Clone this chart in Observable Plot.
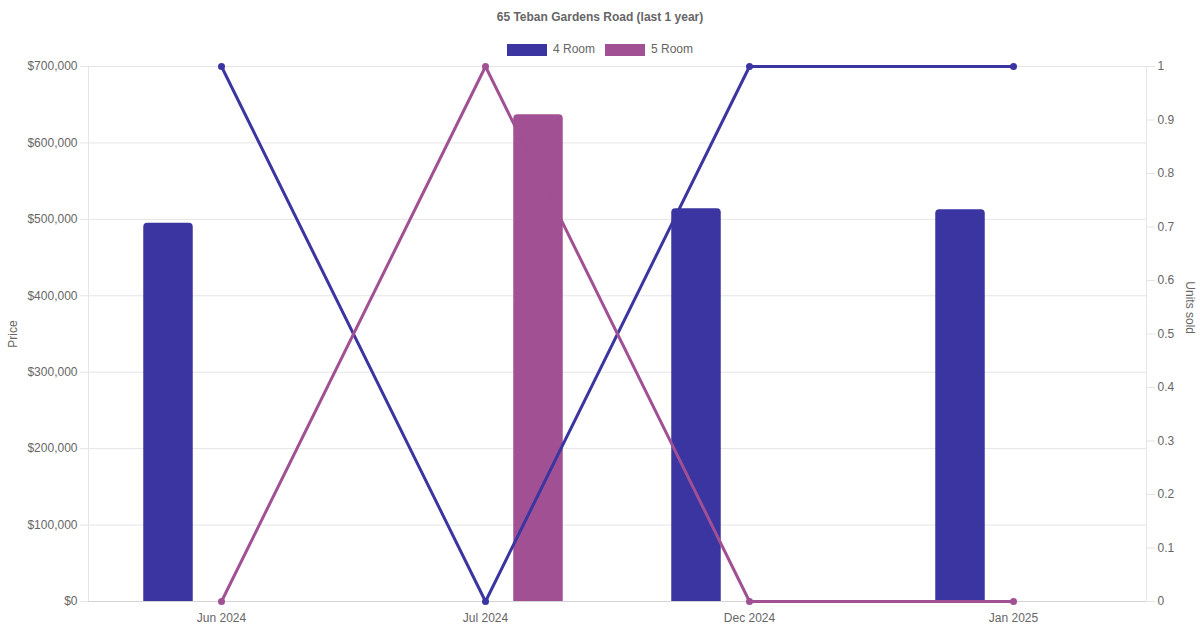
<!DOCTYPE html>
<html>
<head>
<meta charset="utf-8">
<script src="https://cdn.jsdelivr.net/npm/d3@7"></script>
<script src="https://cdn.jsdelivr.net/npm/@observablehq/plot@0.6"></script>
<style>
body{margin:0;background:#fff;font-family:"Liberation Sans",Arial,sans-serif;}
#wrap{position:relative;width:1200px;height:630px;overflow:hidden;}
#title{position:absolute;top:10px;left:0;width:1200px;text-align:center;font-weight:bold;font-size:12px;color:#666;}
#legend{position:absolute;top:43px;left:0;width:1200px;display:flex;justify-content:center;font-size:12px;color:#666;line-height:13px;}
.item{display:flex;align-items:center;margin:0 5px;}
.sw{width:40px;height:12px;margin-right:6px;box-sizing:border-box;}
#chart{position:absolute;top:60px;left:0;}
</style>
</head>
<body>
<div id="wrap">
  <div id="title">65 Teban Gardens Road (last 1 year)</div>
  <div id="legend"></div>
  <div id="chart"></div>
</div>
<script>
// categories + series
const months = ["Jun 2024", "Jul 2024", "Dec 2024", "Jan 2025"];
const seriesNames = ["4 Room", "5 Room"];
const colors = ["#3a35a1", "#a05093"];
const price4 = [495000, null, 514000, 512500];
const price5 = [null, 637000, null, null];
const units4 = [1, 0, 1, 1];
const units5 = [0, 1, 0, 0];
const priceTicks = [0, 100000, 200000, 300000, 400000, 500000, 600000, 700000];
const unitTicks = [0, 0.1, 0.2, 0.3, 0.4, 0.5, 0.6, 0.7, 0.8, 0.9, 1];

const maxPrice = 700000; // right axis (units 0..1) is mapped onto the price scale

// legend
const legend = document.getElementById("legend");
seriesNames.forEach((s, i) => {
  const it = document.createElement("div");
  it.className = "item";
  it.innerHTML = `<span class="sw" style="background:${colors[i]}"></span><span>${s}</span>`;
  legend.appendChild(it);
});

const bars4 = months.map((m, i) => ({month: m, price: price4[i]})).filter(d => d.price != null);
const bars5 = months.map((m, i) => ({month: m, price: price5[i]})).filter(d => d.price != null);
const unitRows = [];
months.forEach((m, i) => {
  unitRows.push({month: m, series: "4 Room", units: units4[i]});
  unitRows.push({month: m, series: "5 Room", units: units5[i]});
});

const grid = "#e5e5e5";
const unitPos = unitTicks.map(u => u * maxPrice);
const plot = Plot.plot({
  width: 1200,
  height: 570,
  marginTop: 6,
  marginBottom: 29,
  marginLeft: 88,
  marginRight: 54,
  style: {fontFamily: '"Liberation Sans", Arial, sans-serif', fontSize: "12px", color: "#666", background: "#fff"},
  x: {domain: months, padding: 0},
  y: {domain: [0, maxPrice]},
  color: {domain: seriesNames, range: colors},
  marks: [
    Plot.gridY(priceTicks, {stroke: grid, strokeOpacity: 1}),
    Plot.frame({anchor: "left", stroke: grid, strokeOpacity: 1}),
    Plot.frame({anchor: "right", stroke: grid, strokeOpacity: 1}),
    Plot.ruleY([0], {stroke: "#d4d4d4"}),
    // tick marks (light) and tick labels drawn separately
    Plot.axisY(priceTicks, {anchor: "left", tickSize: 8, stroke: grid, strokeOpacity: 1, tickFormat: () => "", label: null}),
    Plot.axisY(priceTicks, {
      anchor: "left", tickSize: 0, tickPadding: 11, fill: "#666",
      tickFormat: d => "$" + d3.format(",")(d),
      label: "Price", labelAnchor: "center", labelOffset: 80, labelArrow: "none"
    }),
    Plot.axisY(unitPos, {anchor: "right", tickSize: 8, stroke: grid, strokeOpacity: 1, tickFormat: () => "", label: null}),
    Plot.axisY(unitPos, {
      anchor: "right", tickSize: 0, tickPadding: 11, fill: "#666",
      tickFormat: d => String(+(d / maxPrice).toFixed(1)), label: null
    }),
    Plot.text(["Units sold"], {frameAnchor: "right", rotate: 90, dx: 43, fill: "#666", fontSize: 12}),
    Plot.axisX({tickSize: 0, tickPadding: 12, label: null, fill: "#666"}),
    Plot.barY(bars4, {x: "month", y: "price", fill: colors[0], insetLeft: 107.25, insetRight: 107.25, dx: -53, ry1: 4}),
    Plot.barY(bars5, {x: "month", y: "price", fill: colors[1], insetLeft: 107.25, insetRight: 107.25, dx: 53, ry1: 4}),
    Plot.line(unitRows, {x: "month", y: d => d.units * maxPrice, z: "series", stroke: "series", strokeWidth: 3}),
    Plot.dot(unitRows, {x: "month", y: d => d.units * maxPrice, fill: "series", r: 3.5})
  ]
});
document.getElementById("chart").appendChild(plot);
</script>
</body>
</html>
